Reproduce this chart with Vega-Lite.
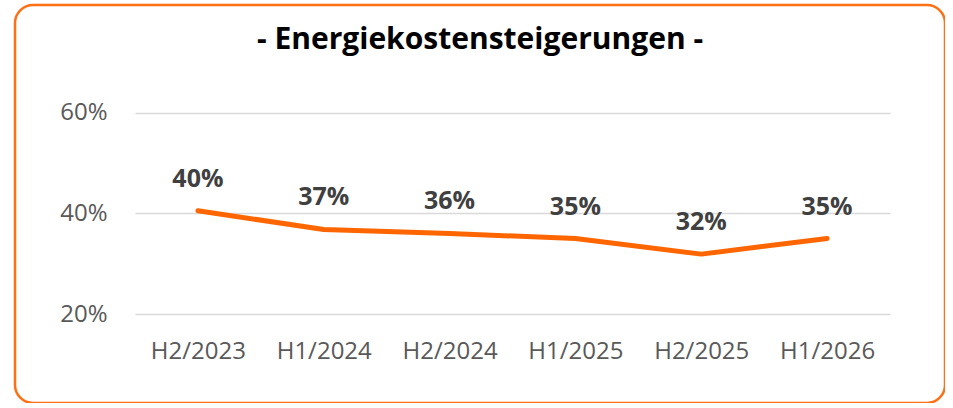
{
  "$schema": "https://vega.github.io/schema/vega-lite/v6.json",
  "autosize": "none",
  "padding": {"left": 15, "top": 5, "right": 0, "bottom": 0},
  "width": 930,
  "height": 398,
  "background": "white",
  "config": {
    "font": "Open Sans",
    "view": {"stroke": "#FF7014", "strokeWidth": 2.5, "cornerRadius": 18, "fill": "white"}
  },
  "title": {
    "text": "- Energiekostensteigerungen -",
    "font": "Open Sans",
    "fontSize": 30,
    "fontWeight": "bold",
    "color": "#000000",
    "anchor": "middle",
    "frame": "group",
    "baseline": "middle",
    "offset": 0,
    "dy": 65
  },
  "data": {
    "values": [
      {"period": "H2/2023", "value": 0.405, "label": "40%"},
      {"period": "H1/2024", "value": 0.368, "label": "37%"},
      {"period": "H2/2024", "value": 0.360, "label": "36%"},
      {"period": "H1/2025", "value": 0.350, "label": "35%"},
      {"period": "H2/2025", "value": 0.319, "label": "32%"},
      {"period": "H1/2026", "value": 0.350, "label": "35%"}
    ]
  },
  "encoding": {
    "x": {
      "field": "period",
      "type": "ordinal",
      "sort": null,
      "scale": {"type": "point", "padding": 0.5, "range": [120, 875]},
      "axis": {
        "title": null,
        "labelAngle": 0,
        "ticks": false,
        "domain": false,
        "grid": false,
        "offset": -89,
        "labelPadding": 25,
        "labelFont": "Open Sans",
        "labelFontSize": 24,
        "labelColor": "#595959"
      }
    },
    "y": {
      "field": "value",
      "type": "quantitative",
      "scale": {"domain": [0.2, 0.6], "range": [309, 107.7], "zero": false, "nice": false},
      "axis": {
        "title": null,
        "values": [0.2, 0.4, 0.6],
        "format": ".0%",
        "domain": false,
        "ticks": false,
        "grid": true,
        "gridColor": "#D9D9D9",
        "gridWidth": 1.5,
        "offset": -120,
        "labelPadding": 28,
        "labelFont": "Open Sans",
        "labelFontSize": 24,
        "labelColor": "#595959"
      }
    }
  },
  "layer": [
    {"mark": {"type": "line", "color": "#FF6600", "strokeWidth": 5, "strokeCap": "round", "strokeJoin": "round"}},
    {"mark": {"type": "text", "dy": -32, "fontSize": 25, "fontWeight": "bold", "color": "#404040", "font": "Open Sans"},
     "encoding": {"text": {"field": "label"}}}
  ]
}
